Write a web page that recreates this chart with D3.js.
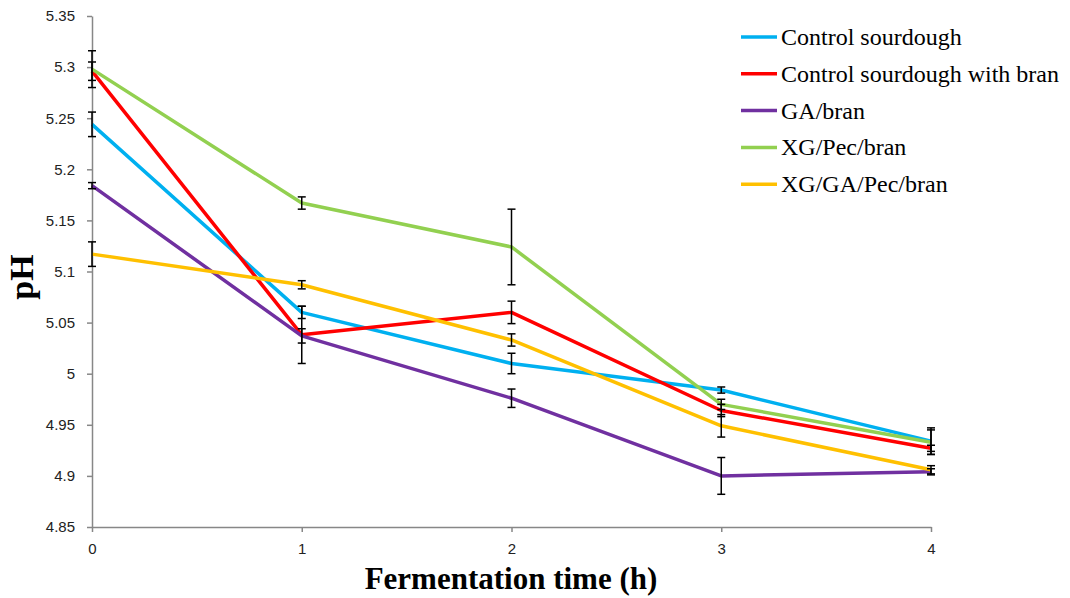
<!DOCTYPE html>
<html>
<head>
<meta charset="utf-8">
<script src="https://cdn.jsdelivr.net/npm/d3@7"></script>
<style>
  html, body { margin: 0; padding: 0; background: #fff; }
  svg { display: block; }
</style>
</head>
<body>
<svg id="chart" width="1070" height="598"></svg>
<script>
// Fermentation time points (h)
const hours = [0, 1, 2, 3, 4];
const yTicks = [4.85, 4.9, 4.95, 5, 5.05, 5.1, 5.15, 5.2, 5.25, 5.3, 5.35];

const seriesNames = ["Control sourdough", "Control sourdough with bran", "GA/bran", "XG/Pec/bran", "XG/GA/Pec/bran"];
const seriesColors = ["#00B0F0", "#FF0000", "#7030A0", "#92D050", "#FFC000"];

// Mean pH per time point
const controlPH      = [5.244, 5.060, 5.010, 4.984, 4.934];
const controlBranPH  = [5.296, 5.038, 5.060, 4.964, 4.927];
const gaBranPH       = [5.184, 5.037, 4.976, 4.900, 4.904];
const xgPecBranPH    = [5.298, 5.167, 5.124, 4.970, 4.933];
const xgGaPecBranPH  = [5.117, 5.087, 5.033, 4.949, 4.906];

// Standard deviations
const controlSD      = [0.012, 0.006, 0.010, 0.003, 0.013];
const controlBranSD  = [0.009, 0.028, 0.011, 0.006, 0.003];
const gaBranSD       = [0.003, 0.007, 0.009, 0.018, 0.003];
const xgPecBranSD    = [0.018, 0.006, 0.037, 0.005, 0.012];
const xgGaPecBranSD  = [0.012, 0.004, 0.006, 0.011, 0.004];

const means = [controlPH, controlBranPH, gaBranPH, xgPecBranPH, xgGaPecBranPH];
const sds = [controlSD, controlBranSD, gaBranSD, xgPecBranSD, xgGaPecBranSD];

const series = seriesNames.map((name, i) => ({
  name, color: seriesColors[i],
  points: hours.map((h, j) => ({ h, v: means[i][j], sd: sds[i][j] }))
}));

const svg = d3.select("#chart");
const margin = { left: 92, right: 139, top: 16, bottom: 71 };
const W = 1070, H = 598;

const x = d3.scaleLinear().domain([0, 4]).range([margin.left, W - margin.right]);
const y = d3.scaleLinear().domain([4.85, 5.35]).range([H - margin.bottom, margin.top]);

const axisColor = "#878787";
const tickFont = "Liberation Sans, Arial, sans-serif";

// Y axis
const yAxis = svg.append("g")
  .attr("transform", `translate(${margin.left},0)`)
  .call(d3.axisLeft(y).tickValues(yTicks).tickSize(5).tickSizeOuter(0).tickPadding(12)
    .tickFormat(d => String(+d.toFixed(2))));
yAxis.selectAll("path, line").attr("stroke", axisColor).attr("stroke-width", 1.5);
yAxis.selectAll("text").attr("font-family", tickFont).attr("font-size", 15).attr("fill", "#222");

// X axis
const xAxis = svg.append("g")
  .attr("transform", `translate(0,${y(4.85)})`)
  .call(d3.axisBottom(x).tickValues(hours).tickSize(5).tickSizeOuter(0).tickPadding(11)
    .tickFormat(d3.format("d")));
xAxis.selectAll("path, line").attr("stroke", axisColor).attr("stroke-width", 1.5);
xAxis.selectAll("text").attr("font-family", tickFont).attr("font-size", 15).attr("fill", "#222");

// Series lines
const line = d3.line().x(d => x(d.h)).y(d => y(d.v));
svg.append("g").selectAll("path")
  .data(series)
  .join("path")
  .attr("d", d => line(d.points))
  .attr("fill", "none")
  .attr("stroke", d => d.color)
  .attr("stroke-width", 3.5)
  .attr("stroke-linejoin", "round");

// Error bars
const capHalf = 4;
const errG = svg.append("g").attr("stroke", "#000").attr("stroke-width", 1.5);
series.forEach(s => {
  s.points.forEach(p => {
    const cx = x(p.h), top = y(p.v + p.sd), bot = y(p.v - p.sd);
    errG.append("line").attr("x1", cx).attr("x2", cx).attr("y1", top).attr("y2", bot);
    errG.append("line").attr("x1", cx - capHalf).attr("x2", cx + capHalf).attr("y1", top).attr("y2", top);
    errG.append("line").attr("x1", cx - capHalf).attr("x2", cx + capHalf).attr("y1", bot).attr("y2", bot);
  });
});

// Legend
const serif = "Liberation Serif, Times New Roman, serif";
const legend = svg.append("g").attr("transform", "translate(741,37)");
series.forEach((s, i) => {
  const g = legend.append("g").attr("transform", `translate(0,${i * 36.8})`);
  g.append("line").attr("x1", 0).attr("x2", 36).attr("y1", 0).attr("y2", 0)
    .attr("stroke", s.color).attr("stroke-width", 3.5);
  g.append("text").attr("x", 40).attr("y", 8)
    .attr("font-family", serif).attr("font-size", 24).attr("fill", "#000")
    .text(s.name);
});

// Axis titles
svg.append("text")
  .attr("x", 511).attr("y", 589)
  .attr("text-anchor", "middle")
  .attr("font-family", serif).attr("font-weight", "bold").attr("font-size", 31)
  .text("Fermentation time (h)");

svg.append("text")
  .attr("transform", "translate(33,277) rotate(-90)")
  .attr("text-anchor", "middle")
  .attr("font-family", serif).attr("font-weight", "bold").attr("font-size", 34)
  .text("pH");
</script>
</body>
</html>
